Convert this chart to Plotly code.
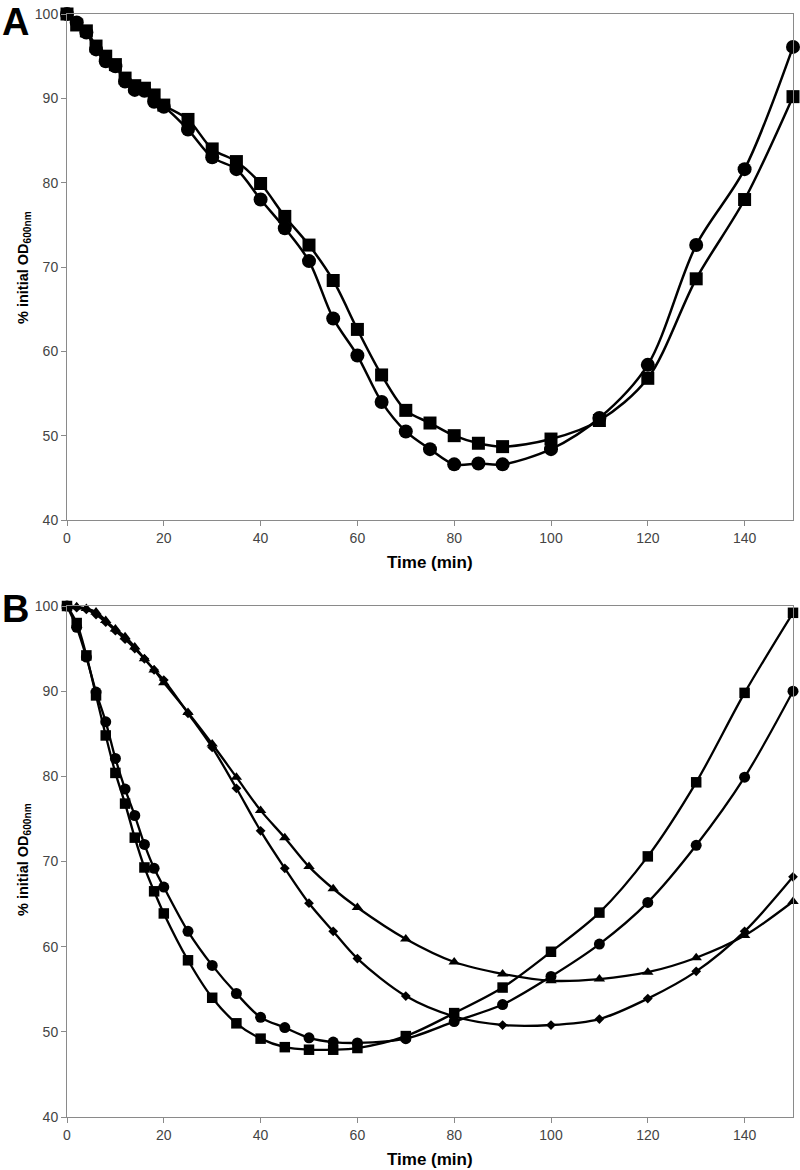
import plotly.graph_objects as go

# ---------------- data ----------------
time_a = [0, 2, 4, 6, 8, 10, 12, 14, 16, 18, 20, 25, 30, 35, 40, 45, 50, 55, 60, 65, 70, 75, 80, 85, 90, 100, 110, 120, 130, 140, 150]
a_circles = [100, 99.0, 97.8, 95.8, 94.4, 93.8, 92.0, 91.0, 90.9, 89.6, 89.0, 86.3, 83.0, 81.6, 78.0, 74.6, 70.7, 63.9, 59.5, 54.0, 50.5, 48.4, 46.6, 46.7, 46.6, 48.4, 52.1, 58.4, 72.6, 81.6, 96.1]
a_squares = [100, 98.7, 98.0, 96.2, 95.0, 94.0, 92.4, 91.5, 91.2, 90.4, 89.2, 87.5, 84.0, 82.5, 79.9, 76.0, 72.6, 68.4, 62.6, 57.2, 53.0, 51.5, 50.0, 49.1, 48.7, 49.6, 51.8, 56.8, 68.6, 78.0, 90.2]

time_b = [0, 2, 4, 6, 8, 10, 12, 14, 16, 18, 20, 25, 30, 35, 40, 45, 50, 55, 60, 70, 80, 90, 100, 110, 120, 130, 140, 150]
b_squares = [100, 98.0, 94.2, 89.5, 84.8, 80.4, 76.8, 72.8, 69.3, 66.5, 63.9, 58.4, 54.0, 51.0, 49.2, 48.2, 47.9, 47.9, 48.1, 49.5, 52.2, 55.2, 59.4, 64.0, 70.6, 79.3, 89.8, 99.2]
b_circles = [100, 97.5, 94.0, 89.9, 86.4, 82.1, 78.5, 75.4, 72.0, 69.2, 67.0, 61.8, 57.8, 54.5, 51.7, 50.5, 49.3, 48.8, 48.7, 49.2, 51.2, 53.2, 56.5, 60.3, 65.2, 71.9, 79.9, 90.0]
b_triangles = [100, 99.9, 99.7, 99.3, 98.3, 97.3, 96.4, 95.2, 93.8, 92.5, 91.0, 87.5, 83.8, 79.9, 76.0, 72.8, 69.4, 66.8, 64.6, 60.9, 58.2, 56.8, 56.0, 56.2, 57.0, 58.7, 61.3, 65.3]
b_diamonds = [100, 99.8, 99.6, 99.0, 98.1, 97.1, 96.1, 95.0, 93.8, 92.5, 91.3, 87.4, 83.4, 78.6, 73.6, 69.2, 65.1, 61.8, 58.6, 54.2, 51.8, 50.8, 50.8, 51.5, 53.9, 57.1, 61.8, 68.2]

x_ticks = [0, 20, 40, 60, 80, 100, 120, 140]
y_ticks = [40, 50, 60, 70, 80, 90, 100]

# ---------------- figure ----------------
W, H = 800, 1170
L, R, T, B = 67, 7, 14, 53
plot_h = H - T - B
a_bottom_px, b_top_px = 520, 606
dom_a = [(H - B - a_bottom_px) / plot_h, 1.0]
dom_b = [0.0, (H - B - b_top_px) / plot_h]

fig = go.Figure()

def add(x, y, symbol, size, width, xa, ya):
    fig.add_trace(go.Scatter(
        x=x, y=y, mode="lines+markers",
        line=dict(color="black", width=width, shape="spline", smoothing=0.9),
        marker=dict(symbol=symbol, size=size, color="black"),
        xaxis=xa, yaxis=ya, cliponaxis=False, showlegend=False))

add(time_a, a_squares, "square", 13, 2.5, "x", "y")
add(time_a, a_circles, "circle", 14, 2.5, "x", "y")

add(time_b, b_triangles, "triangle-up", 10, 2.3, "x2", "y2")
add(time_b, b_diamonds, "diamond", 7.5, 2.3, "x2", "y2")
add(time_b, b_circles, "circle", 11, 2.3, "x2", "y2")
add(time_b, b_squares, "square", 10.5, 2.3, "x2", "y2")

tick_font = dict(family="Liberation Sans, Arial, sans-serif", size=14, color="#444")
axis_common = dict(showgrid=False, zeroline=False, showline=True, linecolor="#8a8a8a",
                   linewidth=1, mirror=True, ticks="outside", ticklen=5, tickcolor="#8a8a8a",
                   tickfont=tick_font)

fig.update_layout(
    width=W, height=H, margin=dict(l=L, r=R, t=T, b=B),
    plot_bgcolor="white", paper_bgcolor="white",
    xaxis=dict(domain=[0, 1], range=[0, 150], tickvals=x_ticks, anchor="y", **axis_common),
    yaxis=dict(domain=dom_a, range=[40, 100], tickvals=y_ticks, anchor="x", **axis_common),
    xaxis2=dict(domain=[0, 1], range=[0, 150], tickvals=x_ticks, anchor="y2", **axis_common),
    yaxis2=dict(domain=dom_b, range=[40, 100], tickvals=y_ticks, anchor="x2", **axis_common),
)

def px_x(px):
    return (px - L) / (W - L - R)

def px_y(py):
    return (H - B - py) / plot_h

title_font = dict(family="Liberation Sans Narrow, Liberation Sans, Arial, sans-serif", size=17, color="black")
ytitle_font = dict(family="Liberation Sans, Arial, sans-serif", size=14.5, color="black")
panel_font = dict(family="Liberation Sans, Arial, sans-serif", size=38, color="black")

ann = []
for label, ly, xt_y, yt_y in [("A", 0, 562, 268), ("B", 587, 1159, 860)]:
    ann.append(dict(text="<b>%s</b>" % label, x=px_x(15), y=px_y(ly), xref="paper", yref="paper",
                    showarrow=False, font=panel_font, xanchor="center", yanchor="top", borderpad=0))
    ann.append(dict(text="<b>Time (min)</b>", x=0.5, y=px_y(xt_y), xref="paper", yref="paper",
                    showarrow=False, font=title_font, xanchor="center", yanchor="middle"))
    ann.append(dict(text="<b>% initial OD<sub>600nm</sub></b>", x=px_x(24), y=px_y(yt_y),
                    xref="paper", yref="paper", showarrow=False, font=ytitle_font,
                    textangle=-90, xanchor="center", yanchor="middle"))
fig.update_layout(annotations=ann)

fig.write_html("out.html", config={"displayModeBar": False},
               post_script="document.body.style.margin='0px';document.body.style.overflow='hidden';")
